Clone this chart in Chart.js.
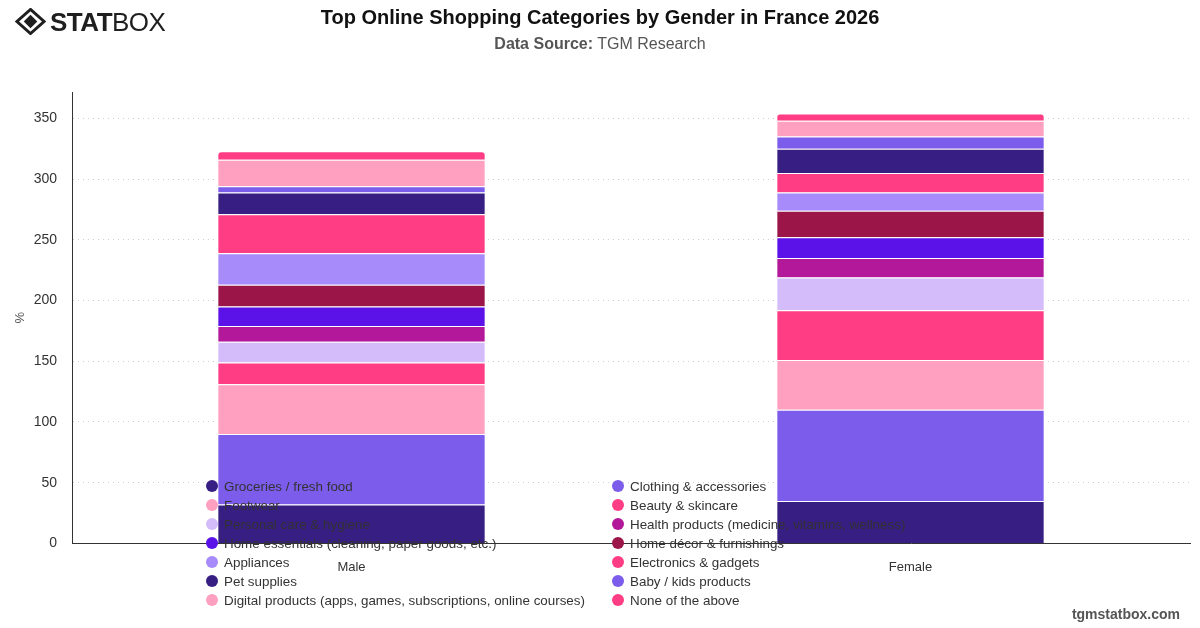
<!DOCTYPE html>
<html>
<head>
<meta charset="utf-8">
<title>Top Online Shopping Categories by Gender in France 2026</title>
<script src="https://cdn.jsdelivr.net/npm/chart.js@4.4.1/dist/chart.umd.min.js"></script>
<style>
  html, body { margin: 0; padding: 0; background: #fff; }
  body { width: 1200px; height: 628px; position: relative; overflow: hidden; font-family: "Liberation Sans", Arial, sans-serif; }
  .chart-box { position: absolute; left: 0; top: 0; width: 1200px; height: 628px; }
  .logo { position: absolute; left: 15px; top: 8px; display: flex; align-items: center; z-index: 2; }
  .logo .name { font-size: 26px; letter-spacing: -0.5px; color: #1f1f1f; margin-left: 4px; line-height: 1; }
  .logo .name b { font-weight: 900; }
  .logo .name span { font-weight: 300; }
  .title { position: absolute; top: 6px; left: 0; width: 1200px; text-align: center; font-size: 20px; font-weight: bold; color: #111; z-index: 2; }
  .subtitle { position: absolute; top: 35px; left: 0; width: 1200px; text-align: center; font-size: 16px; color: #555; z-index: 2; }
  .site { position: absolute; right: 20px; bottom: 6px; font-size: 14px; font-weight: bold; color: #555; z-index: 2; }
</style>
</head>
<body>
<div class="chart-box"><canvas id="shopChart"></canvas></div>
<div class="logo">
  <svg width="31" height="27" viewBox="0 0 32 28">
    <path d="M16 1.5 L30 14 L16 26.5 L2 14 Z" fill="none" stroke="#1f1f1f" stroke-width="3"/>
    <path d="M16 7 L23 14 L16 21 L9 14 Z" fill="#1f1f1f"/>
  </svg>
  <div class="name"><b>STAT</b><span>BOX</span></div>
</div>
<div class="title">Top Online Shopping Categories by Gender in France 2026</div>
<div class="subtitle"><b>Data Source:</b> TGM Research</div>
<div class="site">tgmstatbox.com</div>

<script>
// ====== DATA ======
const genders = ['Male', 'Female'];

const categories = [
  'Groceries / fresh food',
  'Clothing & accessories',
  'Footwear',
  'Beauty & skincare',
  'Personal care & hygiene',
  'Health products (medicine, vitamins, wellness)',
  'Home essentials (cleaning, paper goods, etc.)',
  'Home décor & furnishings',
  'Appliances',
  'Electronics & gadgets',
  'Pet supplies',
  'Baby / kids products',
  'Digital products (apps, games, subscriptions, online courses)',
  'None of the above'
];

// values per category: [Male, Female]
const groceries   = [32, 35];
const clothing    = [58, 75];
const footwear    = [41, 41];
const beauty      = [18, 41];
const personal    = [17, 27];
const health      = [13, 16];
const homeEss     = [16, 17];
const homeDecor   = [18, 22];
const appliances  = [26, 15];
const electronics = [32, 16];
const pets        = [18, 20];
const babyKids    = [5, 10];
const digital     = [22, 13];
const noneAbove   = [7, 6];

const seriesValues = [groceries, clothing, footwear, beauty, personal, health, homeEss,
  homeDecor, appliances, electronics, pets, babyKids, digital, noneAbove];

const colors = ['#371E82', '#7B5CEB', '#FFA0C0', '#FF3D85', '#D4BBFA', '#B4189A', '#5B12E8',
  '#9B1549', '#A78BFA', '#FF3D85', '#371E82', '#7B5CEB', '#FFA0C0', '#FF3D85'];

const yTicks = [0, 50, 100, 150, 200, 250, 300, 350];

// stack totals for axis headroom
const totals = genders.map((g, i) => seriesValues.reduce((s, arr) => s + arr[i], 0));
const yMax = Math.max(...totals) * 1.05;

// ====== LEGEND (two columns, drawn over the plot) ======
const gridLegend = {
  id: 'gridLegend',
  afterDatasetsDraw(chart) {
    const ctx = chart.ctx;
    const colX = [212, 618];
    const top = 486;
    const rowH = 19;
    ctx.save();
    ctx.font = '13.4px "Liberation Sans", Arial, sans-serif';
    ctx.textBaseline = 'middle';
    chart.data.datasets.forEach((ds, i) => {
      const x = colX[i % 2];
      const y = top + Math.floor(i / 2) * rowH;
      ctx.beginPath();
      ctx.arc(x, y, 6, 0, Math.PI * 2);
      ctx.fillStyle = ds.backgroundColor;
      ctx.fill();
      ctx.fillStyle = '#333';
      ctx.fillText(ds.label, x + 12, y + 1);
    });
    ctx.restore();
  }
};

// ====== CHART ======
const ctx = document.getElementById('shopChart').getContext('2d');
new Chart(ctx, {
  type: 'bar',
  data: {
    labels: genders,
    datasets: categories.map((name, i) => ({
      label: name,
      data: seriesValues[i],
      backgroundColor: colors[i],
      borderColor: '#fff',
      borderWidth: 1,
      borderRadius: 4,
      barPercentage: 0.6,
      categoryPercentage: 0.8
    }))
  },
  options: {
    responsive: true,
    maintainAspectRatio: false,
    animation: false,
    layout: { padding: { left: 0, right: 10, top: 92, bottom: 45 } },
    plugins: {
      legend: { display: false },
      tooltip: { enabled: false }
    },
    scales: {
      x: {
        stacked: true,
        grid: { display: false },
        border: { color: '#333', width: 1 },
        ticks: { color: '#333', font: { size: 13, family: '"Liberation Sans", Arial, sans-serif' }, padding: 8 }
      },
      y: {
        stacked: true,
        min: 0,
        max: yMax,
        afterBuildTicks: axis => { axis.ticks = yTicks.map(v => ({ value: v })); },
        afterFit: axis => { axis.width = 72; },
        title: { display: true, text: '%', color: '#555', font: { size: 13 }, padding: { top: 13, bottom: 0 } },
        border: { color: '#333', width: 1, dash: [1, 4] },
        grid: { color: '#cfcfcf', tickLength: 0, lineWidth: 1 },
        ticks: { color: '#333', padding: 15, font: { size: 14, family: '"Liberation Sans", Arial, sans-serif' } }
      }
    }
  },
  plugins: [gridLegend]
});
</script>
</body>
</html>
